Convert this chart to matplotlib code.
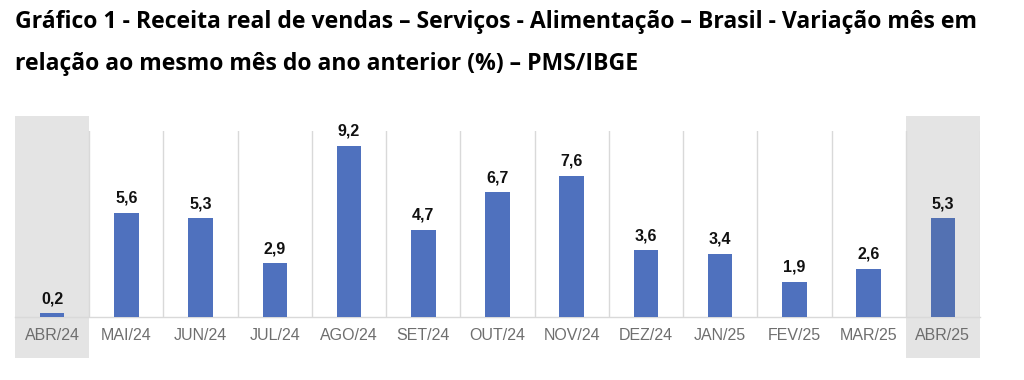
import matplotlib
matplotlib.use("Agg")
import matplotlib.pyplot as plt
from matplotlib.patches import Rectangle

categories = ["ABR/24", "MAI/24", "JUN/24", "JUL/24", "AGO/24", "SET/24", "OUT/24",
              "NOV/24", "DEZ/24", "JAN/25", "FEV/25", "MAR/25", "ABR/25"]
values = [0.2, 5.6, 5.3, 2.9, 9.2, 4.7, 6.7, 7.6, 3.6, 3.4, 1.9, 2.6, 5.3]
labels = ["0,2", "5,6", "5,3", "2,9", "9,2", "4,7", "6,7", "7,6", "3,6", "3,4", "1,9", "2,6", "5,3"]
title_line1 = "Gráfico 1 - Receita real de vendas – Serviços - Alimentação – Brasil - Variação mês em"
title_line2 = "relação ao mesmo mês do ano anterior (%) – PMS/IBGE"
highlight = [0, 12]

W, H = 1024, 380
fig = plt.figure(figsize=(W / 100, H / 100), dpi=100)
left, right, top, bottom = 15, 980, 131, 317
ax = fig.add_axes([left / W, 1 - bottom / H, (right - left) / W, (bottom - top) / H])

n = len(categories)
x = list(range(n))
colors = ["#4F71BE"] * n
colors[-1] = "#5371B2"

# highlight boxes
trans = ax.get_xaxis_transform()
for i in highlight:
    ax.add_patch(Rectangle((i - 0.5, (bottom - 358) / (bottom - top)), 1.0,
                           (358 - 116) / (bottom - top), transform=trans,
                           facecolor="#E4E4E4", edgecolor="none", clip_on=False, zorder=0))

# separators
for b in range(1, n + 1):
    ax.axvline(b - 0.5, color="#D9D9D9", lw=1.0, zorder=1)

ax.bar(x, values, width=0.33, color=colors, zorder=3)
for xi, v, lab in zip(x, values, labels):
    ax.annotate(lab, (xi, v), xytext=(0, 5), textcoords="offset points",
                ha="center", va="bottom", fontsize=11.5, fontweight="bold",
                family="Liberation Sans", color="#111111", zorder=4)

ax.set_xlim(-0.5, n - 0.5)
ax.set_ylim(0, 10)
ax.set_xticks(x)
ax.set_xticklabels(categories, fontsize=11.5, family="Liberation Sans", color="#6E6E6E")
ax.tick_params(axis="x", length=0, pad=8)
ax.set_yticks([])
for s in ["top", "right", "left"]:
    ax.spines[s].set_visible(False)
ax.spines["bottom"].set_color("#D9D9D9")
ax.spines["bottom"].set_linewidth(1.0)
ax.set_facecolor("none")

fig.text(15 / W, 1 - 22 / H, title_line1, fontsize=16.6, fontweight="bold", family="Open Sans",
         va="center", ha="left", color="#000000")
fig.text(15 / W, 1 - 64 / H, title_line2, fontsize=16.6, fontweight="bold", family="Open Sans",
         va="center", ha="left", color="#000000")

fig.savefig("out.png", dpi=100)
